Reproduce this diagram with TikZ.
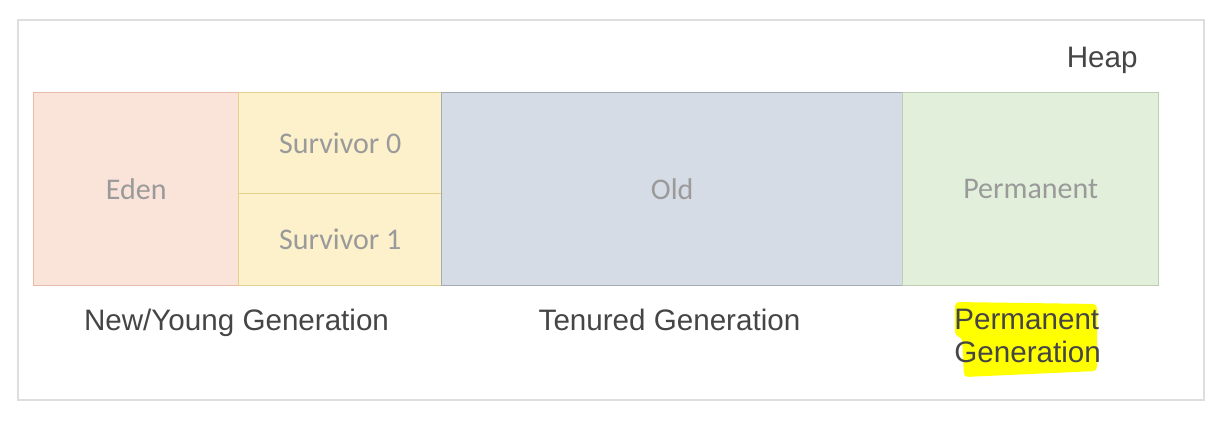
\documentclass[tikz,border=0pt]{standalone}
\usepackage{fontspec}
\setmainfont{Liberation Sans}
\newfontfamily\boxfont{Carlito}
\usetikzlibrary{positioning}

\definecolor{edenfill}{HTML}{FAE3D9}
\definecolor{edenline}{HTML}{E6BBA9}
\definecolor{survfill}{HTML}{FDF1CC}
\definecolor{survline}{HTML}{E5D18E}
\definecolor{oldfill}{HTML}{D6DCE5}
\definecolor{oldline}{HTML}{A3AAB3}
\definecolor{permfill}{HTML}{E2EFDA}
\definecolor{permline}{HTML}{BCCFB2}
\definecolor{framecol}{HTML}{DEDEDE}
\definecolor{boxtext}{HTML}{9A9A9A}
\definecolor{gentext}{HTML}{454545}
\definecolor{marker}{HTML}{FFFF00}

\tikzset{
%Style for the memory areas
area/.style={draw, line width=0.7pt, anchor=north west, inner sep=0pt,
  font=\boxfont\fontsize{15}{18}\selectfont, text=boxtext},
%Style for the generation labels
genlabel/.style={inner sep=0pt, text=gentext, font=\fontsize{14.8}{16.5}\selectfont},
}

\begin{document}
\begin{tikzpicture}[x=0.5pt, y=-0.5pt]

% white background with a light grey frame
\useasboundingbox (0,0) rectangle (1220,420);
\draw[framecol, line width=0.8pt] (18,20) rectangle (1204,400);

% heap
\node[genlabel, anchor=base east] (heap) at (1138,67) {Heap};

% young generation
\node[area, fill=edenfill, draw=edenline, minimum width=102.5pt, minimum height=96.5pt] (eden) at (33,92) {Eden};
\node[area, fill=survfill, draw=survline, minimum width=101.5pt, minimum height=50.5pt] (surv0) at (238,92) {Survivor 0};
\node[area, fill=survfill, draw=survline, minimum width=101.5pt, minimum height=46pt] (surv1) at (238,193) {Survivor 1};

% old generation
\node[area, fill=oldfill, draw=oldline, minimum width=230.5pt, minimum height=96.5pt] (old) at (441,92) {Old};

% permanent generation
\node[area, fill=permfill, draw=permline, minimum width=128pt, minimum height=96.5pt] (perm) at (902,92) {Permanent};

% labels below
\node[genlabel, anchor=base] (younggen) at (236.5,330) {New/Young Generation};
\node[genlabel, anchor=base] (tenuredgen) at (669.5,330) {Tenured Generation};

% highlighted label
\fill[marker, rounded corners=2pt] (955,302) -- (1097,304) -- (1097,371) -- (964,377) -- (962,337) -- (955,336) -- cycle;
\node[genlabel, align=left, anchor=north west] (permgen) at (954,309) {Permanent\\Generation};

\end{tikzpicture}
\end{document}
